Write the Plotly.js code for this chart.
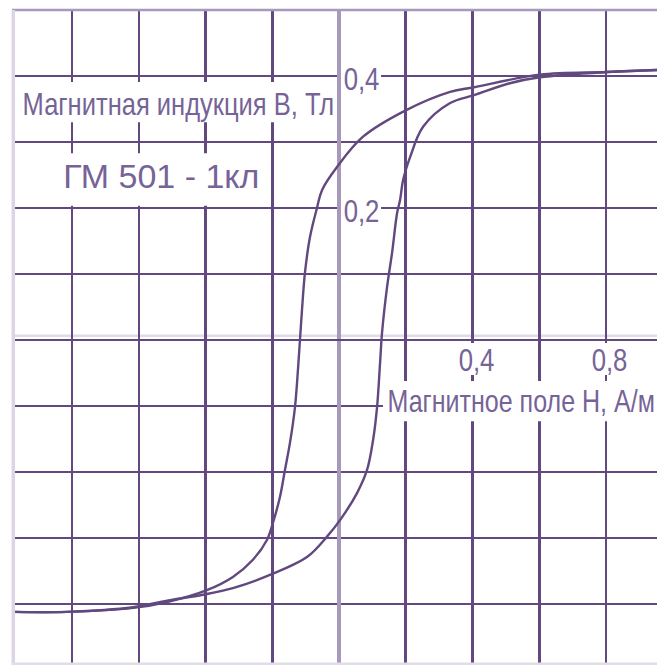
<!DOCTYPE html>
<html>
<head>
<meta charset="utf-8">
<script src="https://cdn.plot.ly/plotly-3.0.1.min.js"></script>
<style>
  html, body { margin: 0; padding: 0; background: #ffffff; }
  #chart { width: 657px; height: 667px; }
</style>
</head>
<body>
<div id="chart"></div>
<script>
// Hysteresis loop of ГМ 501 - 1кл: B (Тл) versus H (А/м)

// Descending branch: from positive saturation down to negative saturation
const downH = [0.953, 0.803, 0.602, 0.405, 0.333, 0.200, 0.072, -0.006, -0.051, -0.066,
               -0.087, -0.102, -0.111, -0.117, -0.123, -0.132, -0.147, -0.162, -0.177,
               -0.198, -0.216, -0.258, -0.318, -0.396, -0.515, -0.617, -0.815, -0.974];
const downB = [0.409, 0.406, 0.402, 0.383, 0.376, 0.348, 0.308, 0.262, 0.227, 0.200,
               0.156, 0.102, 0.045, 0.000, -0.045, -0.102, -0.156, -0.197, -0.238,
               -0.277, -0.303, -0.333, -0.359, -0.379, -0.397, -0.406, -0.412, -0.412];

// Ascending branch: from negative saturation back up to positive saturation
const upH = [-0.974, -0.815, -0.617, -0.515, -0.408, -0.318, -0.207, -0.096, -0.036, 0.003,
             0.054, 0.084, 0.102, 0.114, 0.123, 0.129, 0.144, 0.159, 0.174, 0.183,
             0.192, 0.213, 0.252, 0.333, 0.405, 0.512, 0.602, 0.803, 0.953];
const upB = [-0.412, -0.412, -0.405, -0.395, -0.386, -0.376, -0.356, -0.329, -0.298, -0.273,
             -0.232, -0.197, -0.152, -0.102, -0.035, 0.011, 0.080, 0.132, 0.192, 0.212,
             0.242, 0.277, 0.323, 0.359, 0.371, 0.389, 0.398, 0.406, 0.409];

// Axis tick labels written inside the grid
const hTickVals = [0.4, 0.8];
const hTickText = ["0,4", "0,8"];
const bTickVals = [0.4, 0.2];
const bTickText = ["0,4", "0,2"];

const yAxisTitle = "Магнитная индукция В, Тл";
const xAxisTitle = "Магнитное поле Н, А/м";
const gradeLabel = "ГМ 501 - 1кл";

const ink = "#61487f";
const pale = "#a899bb";
const textInk = "#766397";
const face = "Liberation Sans, Arial, sans-serif";

const traces = [
  { x: downH, y: downB, mode: "lines", line: { color: ink, width: 2.4, shape: "spline", smoothing: 1 },
    hoverinfo: "skip", showlegend: false },
  { x: upH, y: upB, mode: "lines", line: { color: ink, width: 2.4, shape: "spline", smoothing: 1 },
    hoverinfo: "skip", showlegend: false }
];

// Labels; "squeeze" narrows the lettering horizontally after drawing
const labels = [
  { x: -0.4825, y: 0.358, text: yAxisTitle, size: 31.5, squeeze: 0.81 },
  { x: -0.532, y: 0.247, text: gradeLabel, size: 33, squeeze: 1.03 },
  { x: 0.5454, y: -0.092, text: xAxisTitle, size: 31.5, squeeze: 0.795 }
];
hTickVals.forEach((v, i) => labels.push({ x: v + 0.012, y: -0.031, text: hTickText[i], size: 31, squeeze: 0.83 }));
bTickVals.forEach((v, i) => labels.push({ x: 0.066, y: v - 0.005, text: bTickText[i], size: 31, squeeze: 0.83 }));

const annotations = labels.map(l => ({
  x: l.x, y: l.y, xref: "x", yref: "y", text: l.text, showarrow: false,
  xanchor: "center", yanchor: "middle",
  font: { family: face, size: l.size, color: textInk }
}));

// White clearings in the grid behind each label (H from, H to, B from, B to)
const clearings = [
  [-0.968, -0.009, 0.330, 0.391],
  [-0.890, -0.219, 0.2035, 0.283],
  [0.132, 0.99, -0.123, -0.062],
  [0.357, 0.476, -0.053, -0.0045],
  [0.752, 0.872, -0.053, -0.0045],
  [0.006, 0.126, 0.376, 0.415],
  [0.006, 0.126, 0.176, 0.215]
];

const shapes = [
  // faint band just above the H axis
  { type: "line", xref: "paper", yref: "y", x0: 0, x1: 1, y0: 0.0065, y1: 0.0065, layer: "below", line: { color: "#e1dae7", width: 2.5 } }
];
clearings.forEach(c => shapes.push({
  type: "rect", xref: "x", yref: "y", x0: c[0], x1: c[1], y0: c[2], y1: c[3],
  fillcolor: "#ffffff", line: { width: 0 }, layer: "above"
}));
// frame edges
shapes.push(
  { type: "line", xref: "paper", yref: "paper", x0: 0, x1: 1, y0: 1, y1: 1, line: { color: pale, width: 2.5 } },
  { type: "line", xref: "paper", yref: "paper", x0: 0.002, x1: 0.002, y0: 0, y1: 1, line: { color: "#dcd5e3", width: 3.5 } },
  { type: "line", xref: "paper", yref: "paper", x0: 0, x1: 1, y0: 0.002, y1: 0.002, line: { color: "#e2dce8", width: 2.5 } }
);

const layout = {
  width: 657,
  height: 667,
  margin: { l: 12, r: 0, t: 10, b: 2 },
  paper_bgcolor: "#ffffff",
  plot_bgcolor: "#ffffff",
  showlegend: false,
  xaxis: {
    range: [-0.98, 0.953],
    tickmode: "array",
    tickvals: [-0.8, -0.6, -0.4, -0.2, 0, 0.2, 0.4, 0.6, 0.8],
    showticklabels: false,
    ticks: "",
    showgrid: true, gridcolor: ink, gridwidth: 2.6,
    zeroline: true, zerolinecolor: pale, zerolinewidth: 3.5,
    showline: false, fixedrange: true
  },
  yaxis: {
    range: [-0.4925, 0.5],
    tickmode: "array",
    tickvals: [-0.4, -0.3, -0.2, -0.1, 0, 0.1, 0.2, 0.3, 0.4],
    showticklabels: false,
    ticks: "",
    showgrid: true, gridcolor: ink, gridwidth: 2.6,
    zeroline: true, zerolinecolor: ink, zerolinewidth: 2.6,
    showline: false, fixedrange: true
  },
  shapes: shapes,
  annotations: annotations
};

Plotly.newPlot("chart", traces, layout, { displayModeBar: false, staticPlot: true }).then(gd => {
  labels.forEach((l, i) => {
    const t = gd.querySelector('.annotation[data-index="' + i + '"] .annotation-text');
    if (!t) return;
    t.style.transformBox = "fill-box";
    t.style.transformOrigin = "center";
    t.style.transform = "scaleX(" + l.squeeze + ")";
  });
});
</script>
</body>
</html>
